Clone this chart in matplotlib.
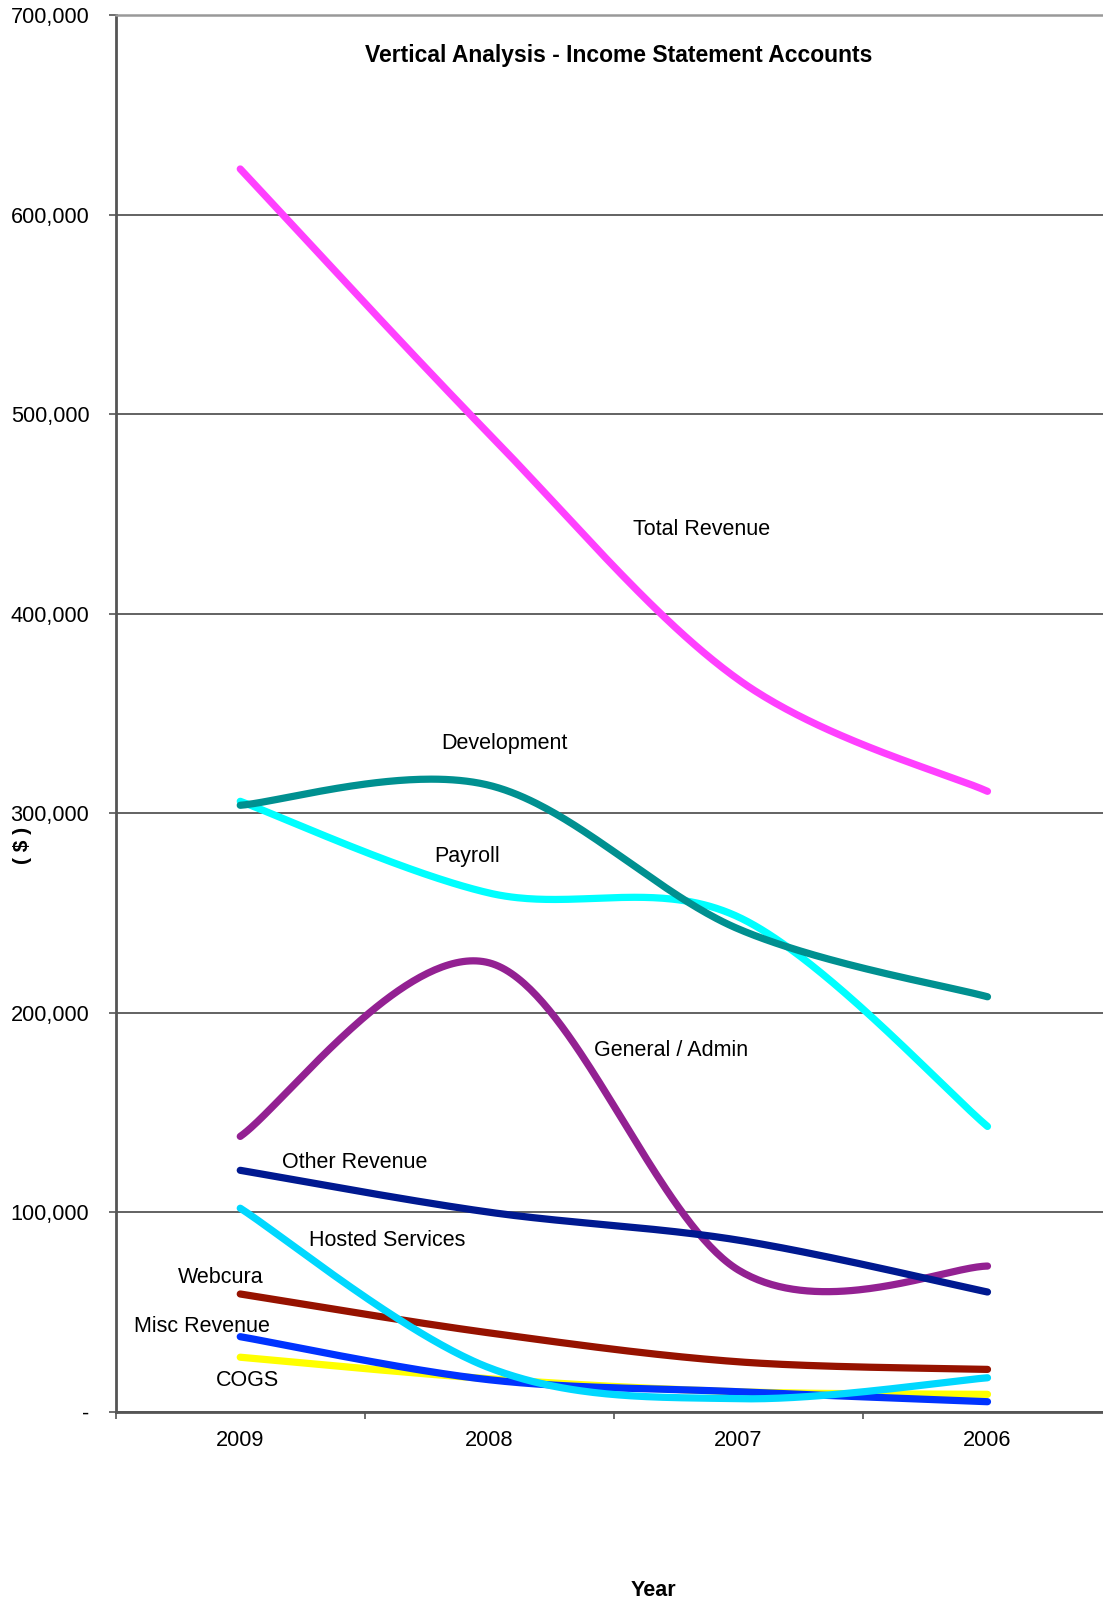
import numpy as np
import matplotlib.pyplot as plt
from matplotlib.ticker import FuncFormatter

plt.rcParams['font.family'] = ['Liberation Sans', 'DejaVu Sans']

# data
years = ['2009', '2008', '2007', '2006']
total_revenue = [623000, 490000, 367000, 311000]
development = [304000, 314000, 242000, 208000]
payroll = [306000, 260000, 248000, 143000]
general_admin = [138000, 225000, 71000, 73000]
other_revenue = [121000, 100000, 86000, 60000]
hosted_services = [102000, 22000, 6500, 17000]
webcura = [59000, 39500, 25000, 21200]
misc_revenue = [37600, 16000, 10000, 5000]
cogs = [27300, 16500, 10000, 8700]

# name, values, colour, label x (category units), label y (baseline)
series = [
    ('Total Revenue', total_revenue, '#FF40FF', 1.853, 439400),
    ('Payroll', payroll, '#00FFFF', 0.910, 275700),
    ('Development', development, '#009090', 1.060, 332000),
    ('General / Admin', general_admin, '#932192', 1.731, 178300),
    ('Other Revenue', other_revenue, '#001990', 0.461, 122000),
    ('Webcura', webcura, '#961200', -0.080, 64700),
    ('COGS', cogs, '#FFFF00', 0.028, 12900),
    ('Misc Revenue', misc_revenue, '#0033FF', -0.153, 40100),
    ('Hosted Services', hosted_services, '#00D8FF', 0.590, 83100),
]


def smooth(vals, n=80):
    # Excel-like smoothed line: cubic Bezier through the points
    px = np.arange(len(vals), dtype=float)
    py = np.array(vals, dtype=float)
    xs, ys = [], []
    t = np.linspace(0, 1, n)
    for i in range(len(py) - 1):
        a = max(i - 1, 0)
        b = min(i + 2, len(py) - 1)
        cx1 = px[i] + (px[i + 1] - px[a]) / 6
        cy1 = py[i] + (py[i + 1] - py[a]) / 6
        cx2 = px[i + 1] - (px[b] - px[i]) / 6
        cy2 = py[i + 1] - (py[b] - py[i]) / 6
        xs.append((1 - t) ** 3 * px[i] + 3 * (1 - t) ** 2 * t * cx1
                  + 3 * (1 - t) * t ** 2 * cx2 + t ** 3 * px[i + 1])
        ys.append((1 - t) ** 3 * py[i] + 3 * (1 - t) ** 2 * t * cy1
                  + 3 * (1 - t) * t ** 2 * cy2 + t ** 3 * py[i + 1])
    return np.concatenate(xs), np.concatenate(ys)


fig = plt.figure(figsize=(11.03, 16.02), dpi=100)
ax = fig.add_axes([0.1049, 0.1188, 0.9033, 0.8716])

for k, (name, vals, col, lx, ly) in enumerate(series):
    sx, sy = smooth(vals)
    ax.plot(sx, sy, color=col, lw=5.2, solid_capstyle='round', zorder=3 + k)
    ax.text(lx, ly, name, fontsize=15.5, ha='center', va='baseline', zorder=20)

ax.set_xlim(-0.5, 3.5)
ax.set_ylim(0, 700000)

ax.set_yticks(np.arange(0, 700001, 100000))
ax.yaxis.set_major_formatter(FuncFormatter(lambda v, p: '-' if v == 0 else f'{int(v):,}'))
ax.tick_params(axis='y', length=5, width=1.2, color='#555555', pad=14, labelsize=15.7)
ax.yaxis.grid(True, color='#383838', lw=1.1)
ax.set_axisbelow(True)

ax.set_xticks([-0.5, 0.5, 1.5, 2.5, 3.5])
ax.set_xticklabels([])
ax.set_xticks(range(len(years)), minor=True)
ax.set_xticklabels(years, minor=True)
ax.tick_params(axis='x', which='major', length=5, width=1.2, color='#555555')
ax.tick_params(axis='x', which='minor', length=0, pad=13.5, labelsize=15.7)

for s in ['left', 'bottom']:
    ax.spines[s].set_color('#555555')
    ax.spines[s].set_linewidth(2)
ax.spines['top'].set_color('#999999')
ax.spines['top'].set_linewidth(1.8)
ax.spines['right'].set_visible(False)

fig.text(0.5612, 0.9615, 'Vertical Analysis - Income Statement Accounts',
         fontsize=16.5, fontweight='bold', ha='center', va='baseline')
fig.text(0.592, 0.0035, 'Year', fontsize=15.5, fontweight='bold',
         ha='center', va='baseline')
fig.text(0.02, 0.472, '( $ )', fontsize=15, fontweight='bold',
         rotation=90, ha='center', va='center')

fig.savefig('out.png', dpi=100)
